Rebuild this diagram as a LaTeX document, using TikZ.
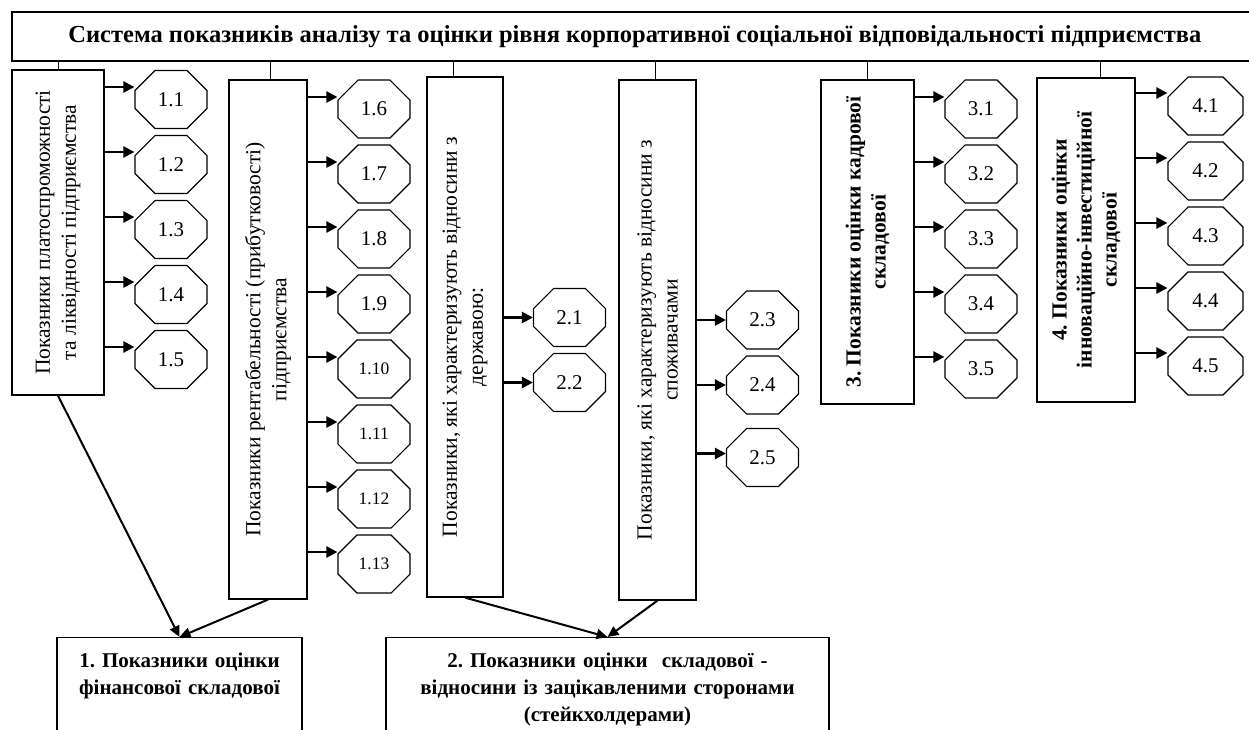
\documentclass[tikz,border=0pt]{standalone}
\usepackage{fontspec}
\setmainfont{Liberation Serif}
\usetikzlibrary{shapes.misc,arrows.meta}
\tikzset{
  box/.style={draw, line width=1.2pt, rotate=90, align=center, inner sep=2pt, font=\fontsize{21.5}{26}\selectfont},
  bbox/.style={box, font=\fontsize{21.5}{25}\selectfont\bfseries},
  oct/.style={draw, line width=1.2pt, chamfered rectangle, chamfered rectangle xsep=13pt, chamfered rectangle ysep=13pt, minimum width=72pt, minimum height=58pt, inner sep=0pt, font=\fontsize{21}{24}\selectfont},
  octs/.style={oct, font=\fontsize{17.5}{20}\selectfont},
  arr/.style={line width=2.4pt, -{Triangle[length=11pt,width=11pt]}},
  diag/.style={line width=2pt, -{Triangle[length=11pt,width=10pt]}},
  tick/.style={line width=1pt},
  res/.style={draw, line width=1.2pt, anchor=north, align=center, inner sep=0pt, text height=30pt, text depth=80pt, font=\fontsize{21}{27}\selectfont\bfseries},
}
\begin{document}
\frenchspacing
\begin{tikzpicture}[x=1pt,y=-1pt]
		\useasboundingbox (0,0) rectangle (1249,729);
		\clip (0,0) rectangle (1249,729);
		%%title
			\node[draw, line width=1.2pt, minimum width=1246pt, minimum height=49pt, font=\fontsize{24.5}{28}\selectfont\bfseries] (title) at (635,36.5) {Система показників аналізу та оцінки рівня корпоративної соціальної відповідальності підприємства};
		
			%groups%
			\node[box, minimum width=325pt, minimum height=92pt] (b1) at (58,232.5) {Показники платоспроможності\\та ліквідності підприємства};
			\node[box, minimum width=519pt, minimum height=78pt] (b2) at (268,339.5) {Показники рентабельності (прибутковості)\\підприємства};
			\node[box, minimum width=520pt, minimum height=76pt] (b3) at (465,337) {Показники, які характеризують відносини з\\державою:};
			\node[box, minimum width=520pt, minimum height=77pt] (b4) at (657.5,340) {Показники, які характеризують відносини з\\споживачами};
			\node[bbox, minimum width=324pt, minimum height=93pt] (b5) at (867.5,242) {3. Показники оцінки кадрової\\складової};
			\node[bbox, minimum width=324pt, minimum height=98pt] (b6) at (1086,240) {4. Показники оцінки\\інноваційно-інвестиційної\\складової};
			
			\draw[tick] (b1.east) -- (b1.east |- title.south);
			\draw[tick] ([xshift=2pt]b2.east) -- ([xshift=2pt]b2.east |- title.south);
			\draw[tick] ([xshift=-12pt]b3.east) -- ([xshift=-12pt]b3.east |- title.south);
			\draw[tick] ([xshift=-2pt]b4.east) -- ([xshift=-2pt]b4.east |- title.south);
			\draw[tick] (b5.east) -- (b5.east |- title.south);
			\draw[tick] ([xshift=14pt]b6.east) -- ([xshift=14pt]b6.east |- title.south);
			
			%results%
			\node[res, text width=245pt] (f1) at (179.5,637) {1. Показники оцінки\\фінансової складової};
			\node[res, text width=443pt] (f2) at (607.5,637) {2. Показники оцінки\ \ складової -\\відносини із зацікавленими сторонами\\(стейкхолдерами)};
			
			\draw[diag] (b1.west) -- (f1.north);
			\draw[diag] (b2.west) -- (f1.north);
			\draw[diag] (b3.west) -- (f2.north);
			\draw[diag] (b4.west) -- (f2.north);
			
			%indicators 1.x%
			\node[oct] (o11) at (171,99.5) {1.1};
			\node[oct] (o12) at (171,164.5) {1.2};
			\node[oct] (o13) at (171,229.5) {1.3};
			\node[oct] (o14) at (171,294.5) {1.4};
			\node[oct] (o15) at (171,359.5) {1.5};
			\draw[arr] ([yshift=12.5pt]o11.west -| b1.south) -- ([yshift=12.5pt]o11.west);
			\draw[arr] ([yshift=12.5pt]o12.west -| b1.south) -- ([yshift=12.5pt]o12.west);
			\draw[arr] ([yshift=12.5pt]o13.west -| b1.south) -- ([yshift=12.5pt]o13.west);
			\draw[arr] ([yshift=12.5pt]o14.west -| b1.south) -- ([yshift=12.5pt]o14.west);
			\draw[arr] ([yshift=12.5pt]o15.west -| b1.south) -- ([yshift=12.5pt]o15.west);
			
			\node[oct] (o16) at (374,109) {1.6};
			\node[oct] (o17) at (374,174) {1.7};
			\node[oct] (o18) at (374,239) {1.8};
			\node[oct] (o19) at (374,304) {1.9};
			\node[octs] (o110) at (374,369) {1.10};
			\node[octs] (o111) at (374,434) {1.11};
			\node[octs] (o112) at (374,499) {1.12};
			\node[octs] (o113) at (374,564) {1.13};
			\draw[arr] ([yshift=12pt]o16.west -| b2.south) -- ([yshift=12pt]o16.west);
			\draw[arr] ([yshift=12pt]o17.west -| b2.south) -- ([yshift=12pt]o17.west);
			\draw[arr] ([yshift=12pt]o18.west -| b2.south) -- ([yshift=12pt]o18.west);
			\draw[arr] ([yshift=12pt]o19.west -| b2.south) -- ([yshift=12pt]o19.west);
			\draw[arr] ([yshift=12pt]o110.west -| b2.south) -- ([yshift=12pt]o110.west);
			\draw[arr] ([yshift=12pt]o111.west -| b2.south) -- ([yshift=12pt]o111.west);
			\draw[arr] ([yshift=12pt]o112.west -| b2.south) -- ([yshift=12pt]o112.west);
			\draw[arr] ([yshift=12pt]o113.west -| b2.south) -- ([yshift=12pt]o113.west);
			
			%indicators 2.x%
			\node[oct] (o21) at (569.5,317.5) {2.1};
			\node[oct] (o22) at (569.5,382.5) {2.2};
			\draw[arr] (o21.west -| b3.south) -- (o21.west);
			\draw[arr] (o22.west -| b3.south) -- (o22.west);
			
			\node[oct] (o23) at (762.5,320) {2.3};
			\node[oct] (o24) at (762.5,385) {2.4};
			\node[oct] (o25) at (762.5,457.5) {2.5};
			\draw[arr] (o23.west -| b4.south) -- (o23.west);
			\draw[arr] (o24.west -| b4.south) -- (o24.west);
			\draw[arr] ([yshift=4pt]o25.west -| b4.south) -- ([yshift=4pt]o25.west);
			
			%indicators 3.x%
			\node[oct] (o31) at (981,109) {3.1};
			\node[oct] (o32) at (981,174) {3.2};
			\node[oct] (o33) at (981,239) {3.3};
			\node[oct] (o34) at (981,304) {3.4};
			\node[oct] (o35) at (981,369) {3.5};
			\draw[arr] ([yshift=12pt]o31.west -| b5.south) -- ([yshift=12pt]o31.west);
			\draw[arr] ([yshift=12pt]o32.west -| b5.south) -- ([yshift=12pt]o32.west);
			\draw[arr] ([yshift=12pt]o33.west -| b5.south) -- ([yshift=12pt]o33.west);
			\draw[arr] ([yshift=12pt]o34.west -| b5.south) -- ([yshift=12pt]o34.west);
			\draw[arr] ([yshift=12pt]o35.west -| b5.south) -- ([yshift=12pt]o35.west);
			
			%indicators 4.x%
			\node[oct, minimum width=75pt] (o41) at (1205.5,106) {4.1};
			\node[oct, minimum width=75pt] (o42) at (1205.5,171) {4.2};
			\node[oct, minimum width=75pt] (o43) at (1205.5,236) {4.3};
			\node[oct, minimum width=75pt] (o44) at (1205.5,301) {4.4};
			\node[oct, minimum width=75pt] (o45) at (1205.5,366) {4.5};
			\draw[arr] ([yshift=13pt]o41.west -| b6.south) -- ([yshift=13pt]o41.west);
			\draw[arr] ([yshift=13pt]o42.west -| b6.south) -- ([yshift=13pt]o42.west);
			\draw[arr] ([yshift=13pt]o43.west -| b6.south) -- ([yshift=13pt]o43.west);
			\draw[arr] ([yshift=13pt]o44.west -| b6.south) -- ([yshift=13pt]o44.west);
			\draw[arr] ([yshift=13pt]o45.west -| b6.south) -- ([yshift=13pt]o45.west);
\end{tikzpicture}
\end{document}
